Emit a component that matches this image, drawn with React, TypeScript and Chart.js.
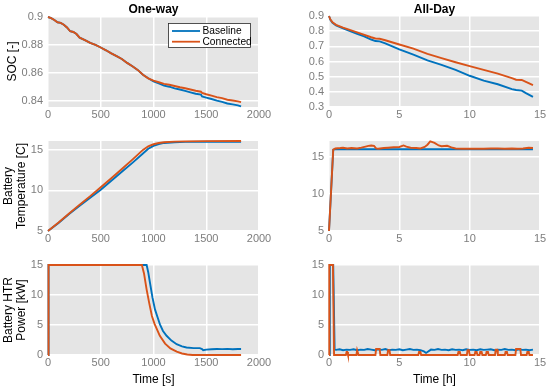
import React, { useEffect, useRef } from 'react';
import { Chart, registerables } from 'chart.js';
Chart.register(...registerables);

const BLUE = '#0072BD';
const ORANGE = '#D95319';
const FONT = '"Liberation Sans", Arial, Helvetica, sans-serif';
const TICK_COLOR = '#7d7d7d';
const BG = '#E5E5E5';

// ---------- tick labels ----------
const oneWayXTicks = [0, 500, 1000, 1500, 2000];
const allDayXTicks = [0, 5, 10, 15];
const socOneWayTicks = [0.84, 0.86, 0.88, 0.9];
const socAllDayTicks = [0.3, 0.4, 0.5, 0.6, 0.7, 0.8, 0.9];
const tempTicks = [5, 10, 15];
const powerTicks = [0, 5, 10, 15];

// ---------- One-way SOC ----------
const socOneWaySharedT = [0, 30, 60, 90, 120, 150, 180, 210, 240, 270, 300, 350, 400, 450, 500, 550, 600, 650, 700, 750, 800, 850, 900, 950];
const socOneWaySharedV = [0.9, 0.8992, 0.8978, 0.8962, 0.8958, 0.8945, 0.8925, 0.8898, 0.8893, 0.8878, 0.8852, 0.8835, 0.8815, 0.88, 0.8782, 0.8762, 0.874, 0.872, 0.87, 0.8672, 0.8648, 0.8622, 0.8588, 0.8562];
const socOneWayTailT = [1000, 1050, 1100, 1150, 1200, 1250, 1300, 1350, 1400, 1450, 1460, 1500, 1550, 1600, 1650, 1700, 1750, 1800, 1830];
const socOneWayBaseTail = [0.854, 0.8525, 0.851, 0.8502, 0.849, 0.8482, 0.8472, 0.8462, 0.8452, 0.8446, 0.8432, 0.8424, 0.8414, 0.8402, 0.8394, 0.8382, 0.8376, 0.8369, 0.8362];
const socOneWayConnTail = [0.8545, 0.8534, 0.8522, 0.8516, 0.8507, 0.8498, 0.8491, 0.8482, 0.8473, 0.8466, 0.8458, 0.8448, 0.8438, 0.8428, 0.842, 0.8409, 0.8403, 0.8397, 0.8392];

// ---------- One-way temperature ----------
const tempOneWayBaseT = [0, 100, 200, 300, 400, 500, 600, 700, 800, 900, 950, 1000, 1050, 1100, 1200, 1300, 1500, 1830];
const tempOneWayBaseV = [5, 6.0, 7.1, 8.1, 9.1, 10.1, 11.2, 12.3, 13.4, 14.55, 15.15, 15.5, 15.72, 15.86, 15.95, 15.99, 16.0, 16.0];
const tempOneWayConnT = [0, 100, 200, 300, 400, 500, 600, 700, 800, 900, 950, 1000, 1050, 1100, 1200, 1300, 1500, 1830];
const tempOneWayConnV = [5, 6.05, 7.15, 8.25, 9.3, 10.4, 11.5, 12.65, 13.8, 15.0, 15.45, 15.7, 15.85, 15.95, 16.02, 16.05, 16.08, 16.1];

// ---------- One-way heater power ----------
const powOneWayConnT = [0, 5, 890, 910, 935, 960, 985, 1010, 1060, 1110, 1160, 1220, 1270, 1320, 1370, 1830];
const powOneWayConnV = [0, 15, 15, 13.6, 10.9, 8.6, 6.5, 5.2, 3.2, 1.9, 1.1, 0.55, 0.25, 0.08, 0, 0];
const powOneWayBaseT = [0, 5, 935, 950, 967, 990, 1014, 1040, 1061, 1090, 1124, 1170, 1219, 1270, 1313, 1380, 1439, 1460, 1471, 1500, 1550, 1600, 1650, 1700, 1750, 1800, 1830];
const powOneWayBaseV = [0, 15, 15, 13.8, 12, 9.6, 7.6, 6.2, 5.1, 4.0, 3.2, 2.4, 1.8, 1.45, 1.26, 1.15, 1.15, 1.0, 0.8, 0.9, 0.95, 1.0, 0.98, 1.02, 0.95, 1.0, 1.0];

// ---------- All-day SOC ----------
const socAllDayBaseT = [0, 0.1, 0.25, 0.5, 1, 1.5, 2, 2.5, 3, 3.3, 3.6, 4, 5, 6, 7, 8, 9, 10, 11, 12, 13, 13.3, 13.7, 14, 14.5];
const socAllDayBaseV = [0.9, 0.875, 0.855, 0.838, 0.818, 0.8, 0.783, 0.766, 0.745, 0.735, 0.733, 0.72, 0.68, 0.645, 0.607, 0.578, 0.545, 0.506, 0.474, 0.45, 0.418, 0.412, 0.408, 0.392, 0.367];
const socAllDayConnT = [0, 0.1, 0.25, 0.5, 1, 2, 3, 3.3, 3.6, 4, 5, 6, 7, 8, 9, 10, 11, 12, 13, 13.3, 13.7, 14, 14.5];
const socAllDayConnV = [0.9, 0.877, 0.858, 0.842, 0.824, 0.792, 0.76, 0.752, 0.75, 0.74, 0.712, 0.685, 0.65, 0.622, 0.595, 0.57, 0.545, 0.52, 0.49, 0.48, 0.478, 0.465, 0.444];

// ---------- All-day temperature ----------
const tempAllDayBaseT = [0, 0.3, 0.45, 14.5];
const tempAllDayBaseV = [5, 15.9, 16.0, 16.0];
const tempAllDayConnT = [0, 0.3, 0.45, 0.8, 1.0, 1.3, 1.6, 2.0, 2.3, 2.6, 2.8, 3.0, 3.2, 3.35, 3.5, 3.9, 4.2, 4.6, 5.0, 5.3, 5.5, 5.8, 6.2, 6.5, 6.8, 7.0, 7.2, 7.5, 7.8, 8.0, 8.4, 8.7, 9.0, 9.5, 10, 10.5, 11, 11.5, 12, 12.5, 13, 13.4, 13.8, 14.2, 14.5];
const tempAllDayConnV = [5, 15.95, 16.1, 16.15, 16.2, 16.1, 16.15, 16.1, 16.2, 16.35, 16.45, 16.5, 16.45, 16.1, 16.05, 16.15, 16.2, 16.25, 16.3, 16.5, 16.35, 16.2, 16.15, 16.1, 16.3, 16.6, 17.05, 16.85, 16.5, 16.4, 16.45, 16.25, 16.1, 16.05, 16.05, 16.08, 16.05, 16.1, 16.1, 16.05, 16.1, 16.05, 16.1, 16.2, 16.15];

// ---------- All-day heater power ----------
const powAllDayBaseT = [0, 0.05, 0.07, 0.3, 0.4, 0.5, 0.75, 1.0, 1.25, 1.5, 1.75, 2.0, 2.25, 2.5, 2.75, 3.0, 3.25, 3.5, 3.75, 4.0, 4.25, 4.5, 4.75, 5.0, 5.25, 5.5, 5.75, 6.0, 6.25, 6.5, 6.75, 6.9, 7.0, 7.25, 7.5, 7.75, 8.0, 8.25, 8.5, 8.75, 9.0, 9.25, 9.5, 9.75, 10.0, 10.25, 10.5, 10.75, 11.0, 11.25, 11.5, 11.75, 12.0, 12.25, 12.5, 12.75, 13.0, 13.25, 13.5, 13.75, 14.0, 14.25, 14.5];
const powAllDayBaseV = [0, 0, 15, 15, 0.9, 0.85, 0.95, 0.8, 0.9, 0.85, 0.95, 0.8, 0.9, 0.85, 1.0, 0.9, 0.8, 0.95, 0.85, 1.0, 0.8, 0.9, 0.85, 0.95, 0.8, 0.9, 1.0, 0.85, 0.9, 0.8, 0.6, 0.35, 0.5, 0.9, 0.85, 1.0, 0.85, 0.9, 0.8, 0.95, 0.85, 0.9, 0.8, 0.95, 0.85, 0.9, 0.8, 0.95, 0.85, 0.9, 0.95, 0.8, 0.9, 0.85, 1.0, 0.85, 0.9, 0.8, 0.95, 0.85, 0.9, 0.8, 0.9];
const powAllDayConnT = [0, 0.02, 0.28, 0.36, 1.2, 1.25, 1.3, 1.35, 1.95, 2.0, 2.05, 2.1, 3.3, 3.35, 3.6, 3.65, 4.15, 4.2, 4.3, 4.35, 6.35, 6.4, 6.5, 6.55, 9.15, 9.2, 9.3, 9.35, 9.8, 9.85, 9.95, 10.0, 10.35, 10.4, 10.5, 10.55, 10.7, 10.75, 10.85, 10.9, 11.15, 11.2, 11.3, 11.35, 11.8, 11.85, 11.95, 12.0, 12.5, 12.55, 12.65, 12.7, 13.25, 13.3, 13.6, 13.65, 14.05, 14.1, 14.2, 14.25, 14.5];
const powAllDayConnV = [0, 15, 15, 0, 0, 0.5, 0.5, 0, 0, 0.8, 0.8, 0, 0, 1.0, 1.0, 0, 0, 0.8, 0.8, 0, 0, 0.5, 0.5, 0, 0, 0.5, 0.5, 0, 0, 0.8, 0.8, 0, 0, 0.5, 0.5, 0, 0, 0.5, 0.5, 0, 0, 0.5, 0.5, 0, 0, 0.9, 0.9, 0, 0, 0.5, 0.5, 0, 0, 1.0, 1.0, 0, 0, 0.5, 0.5, 0, 0];

const zip = (xs: number[], ys: number[]) => xs.map((x, i) => ({ x, y: ys[i] }));

const bgPlugin = {
  id: 'panelBg',
  beforeDraw(chart: any) {
    const { ctx, chartArea: a } = chart;
    ctx.save();
    ctx.fillStyle = BG;
    ctx.fillRect(a.left, a.top, a.right - a.left, a.bottom - a.top);
    ctx.restore();
  },
};

const titlePlugin = {
  id: 'panelTitle',
  afterDraw(chart: any, _args: any, opts: any) {
    if (!opts || !opts.text) return;
    const { ctx, chartArea: a } = chart;
    ctx.save();
    ctx.font = `bold 12px ${FONT}`;
    ctx.fillStyle = '#000';
    ctx.textAlign = 'center';
    ctx.textBaseline = 'middle';
    ctx.fillText(opts.text, (a.left + a.right) / 2, a.top - 6.5);
    ctx.restore();
  },
};

const legendPlugin = {
  id: 'panelLegend',
  afterDatasetsDraw(chart: any, _args: any, opts: any) {
    if (!opts || !opts.show) return;
    const { ctx, chartArea: a } = chart;
    const w = 83, h = 25;
    const x = a.right - 8 - w;
    const y = a.top + 7;
    ctx.save();
    ctx.fillStyle = '#fff';
    ctx.fillRect(x, y, w, h);
    ctx.strokeStyle = '#262626';
    ctx.lineWidth = 0.8;
    ctx.strokeRect(x + 0.5, y + 0.5, w - 1, h - 1);
    const items = chart.data.datasets.map((d: any) => ({ label: d.label, color: d.borderColor }));
    items.forEach((it: any, i: number) => {
      const ly = y + 8 + i * 10.7;
      ctx.strokeStyle = it.color;
      ctx.lineWidth = 1.8;
      ctx.beginPath();
      ctx.moveTo(x + 4, ly);
      ctx.lineTo(x + 32, ly);
      ctx.stroke();
      ctx.fillStyle = '#000';
      ctx.font = `10.2px ${FONT}`;
      ctx.textAlign = 'left';
      ctx.textBaseline = 'middle';
      ctx.fillText(it.label, x + 34.5, ly + 0.5);
    });
    ctx.restore();
  },
};

type Panel = {
  left: number; top: number; width: number; height: number;
  yWidth: number; xHeight: number; padTop: number; padRight: number;
  xMin: number; xMax: number; xTicks: number[];
  yMin: number; yMax: number; yTicks: number[];
  yTitle?: string | string[]; xTitle?: string; title?: string; legend?: boolean;
  base: { x: number; y: number }[]; conn: { x: number; y: number }[];
};

const panels: Panel[] = [
  { left: 0, top: 0, width: 275, height: 125, yWidth: 48, xHeight: 18, padTop: 16, padRight: 16,
    xMin: 0, xMax: 2000, xTicks: oneWayXTicks, yMin: 0.8357, yMax: 0.9007, yTicks: socOneWayTicks,
    yTitle: 'SOC [-]', title: 'One-way', legend: true,
    base: zip([...socOneWaySharedT, ...socOneWayTailT], [...socOneWaySharedV, ...socOneWayBaseTail]),
    conn: zip([...socOneWaySharedT, ...socOneWayTailT], [...socOneWaySharedV, ...socOneWayConnTail]) },
  { left: 275, top: 0, width: 275, height: 125, yWidth: 54, xHeight: 18, padTop: 16, padRight: 10,
    xMin: 0, xMax: 15, xTicks: allDayXTicks, yMin: 0.3, yMax: 0.9, yTicks: socAllDayTicks,
    title: 'All-Day',
    base: zip(socAllDayBaseT, socAllDayBaseV), conn: zip(socAllDayConnT, socAllDayConnV) },
  { left: 0, top: 125, width: 275, height: 125, yWidth: 48, xHeight: 19, padTop: 16, padRight: 16,
    xMin: 0, xMax: 2000, xTicks: oneWayXTicks, yMin: 5, yMax: 16.1, yTicks: tempTicks,
    yTitle: ['Battery', 'Temperature [C]'],
    base: zip(tempOneWayBaseT, tempOneWayBaseV), conn: zip(tempOneWayConnT, tempOneWayConnV) },
  { left: 275, top: 125, width: 275, height: 125, yWidth: 54, xHeight: 19, padTop: 16, padRight: 10,
    xMin: 0, xMax: 15, xTicks: allDayXTicks, yMin: 5, yMax: 17.1, yTicks: tempTicks,
    base: zip(tempAllDayBaseT, tempAllDayBaseV), conn: zip(tempAllDayConnT, tempAllDayConnV) },
  { left: 0, top: 250, width: 275, height: 140, yWidth: 48, xHeight: 35, padTop: 15, padRight: 16,
    xMin: 0, xMax: 2000, xTicks: oneWayXTicks, yMin: 0, yMax: 15, yTicks: powerTicks,
    yTitle: ['Battery HTR', 'Power [kW]'], xTitle: 'Time [s]',
    base: zip(powOneWayBaseT, powOneWayBaseV), conn: zip(powOneWayConnT, powOneWayConnV) },
  { left: 275, top: 250, width: 275, height: 140, yWidth: 54, xHeight: 35, padTop: 15, padRight: 10,
    xMin: 0, xMax: 15, xTicks: allDayXTicks, yMin: 0, yMax: 15, yTicks: powerTicks,
    xTitle: 'Time [h]',
    base: zip(powAllDayBaseT, powAllDayBaseV), conn: zip(powAllDayConnT, powAllDayConnV) },
];

function makeChart(canvas: HTMLCanvasElement, p: Panel) {
  const multi = Array.isArray(p.yTitle);
  return new Chart(canvas, {
    type: 'line',
    data: {
      datasets: [
        { label: 'Baseline', data: p.base, borderColor: BLUE, backgroundColor: BLUE, borderWidth: 1.9, pointRadius: 0, tension: 0, order: 1, clip: false as any },
        { label: 'Connected', data: p.conn, borderColor: ORANGE, backgroundColor: ORANGE, borderWidth: 1.9, pointRadius: 0, tension: 0, order: 0, clip: false as any },
      ],
    },
    options: {
      responsive: false,
      animation: false,
      devicePixelRatio: 1,
      events: [],
      layout: { padding: { left: 0, top: p.padTop, right: p.padRight, bottom: 0 } },
      plugins: {
        legend: { display: false },
        tooltip: { enabled: false },
        panelTitle: { text: p.title },
        panelLegend: { show: !!p.legend },
      } as any,
      scales: {
        x: {
          type: 'linear',
          min: p.xMin,
          max: p.xMax,
          afterBuildTicks: (s: any) => { s.ticks = p.xTicks.map((v) => ({ value: v })); },
          afterFit: (s: any) => { s.height = p.xHeight; },
          grid: { color: '#ffffff', lineWidth: 1.5, drawTicks: false },
          border: { display: false },
          ticks: { color: TICK_COLOR, font: { family: FONT, size: 11 }, padding: 1, maxRotation: 0, autoSkip: false, callback: (v: any) => String(v) },
          title: p.xTitle
            ? { display: true, text: p.xTitle, color: '#000', font: { family: FONT, size: 12, lineHeight: 1.1 }, padding: { top: 0, bottom: 3.5 } }
            : { display: false },
        },
        y: {
          type: 'linear',
          min: p.yMin,
          max: p.yMax,
          afterBuildTicks: (s: any) => { s.ticks = p.yTicks.map((v) => ({ value: v })); },
          afterFit: (s: any) => { s.width = p.yWidth; },
          grid: { color: '#ffffff', lineWidth: 1.5, drawTicks: false },
          border: { display: false },
          ticks: { color: TICK_COLOR, font: { family: FONT, size: 11 }, padding: 5, autoSkip: false, callback: (v: any) => String(v) },
          title: p.yTitle
            ? { display: true, text: p.yTitle as any, color: '#000', font: { family: FONT, size: 12, lineHeight: 1.05 }, padding: { top: multi ? 2.7 : 6, bottom: 0 } }
            : { display: false },
        },
      },
    },
    plugins: [bgPlugin, titlePlugin, legendPlugin],
  } as any);
}

export default function App() {
  const refs = useRef<(HTMLCanvasElement | null)[]>([]);
  useEffect(() => {
    const charts = panels.map((p, i) => makeChart(refs.current[i] as HTMLCanvasElement, p));
    return () => charts.forEach((c) => c.destroy());
  }, []);
  return (
    <div style={{ position: 'absolute', left: 0, top: 0, width: 550, height: 390, background: '#fff', overflow: 'hidden' }}>
      {panels.map((p, i) => (
        <canvas
          key={i}
          ref={(el) => { refs.current[i] = el; }}
          width={p.width}
          height={p.height}
          style={{ position: 'absolute', left: p.left, top: p.top, width: p.width, height: p.height }}
        />
      ))}
    </div>
  );
}
